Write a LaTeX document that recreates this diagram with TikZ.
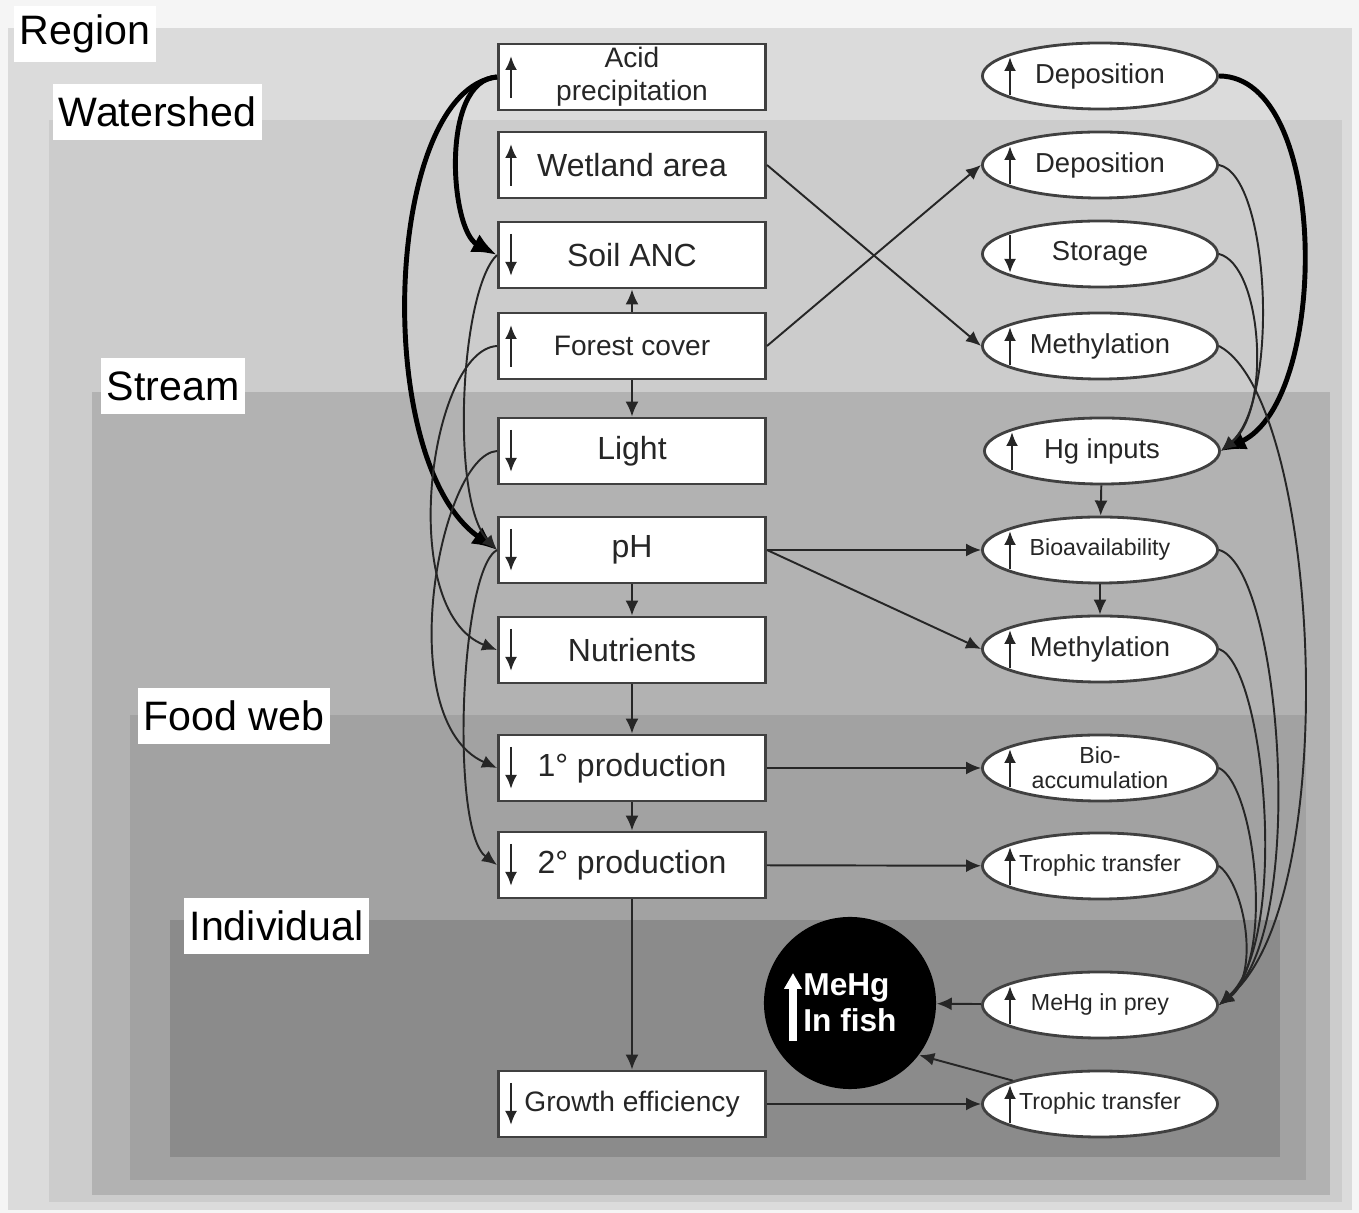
\documentclass[tikz,border=0pt]{standalone}
\usepackage{fontspec}
\setmainfont{Liberation Sans}
\usepackage{tikz}
\usetikzlibrary{shapes.geometric}
\usetikzlibrary{arrows.meta}
\usetikzlibrary{calc}
\definecolor{grPage}{gray}{0.96}
\definecolor{grRegion}{gray}{0.86}
\definecolor{grWater}{gray}{0.80}
\definecolor{grStream}{gray}{0.70}
\definecolor{grFood}{gray}{0.635}
\definecolor{grInd}{gray}{0.545}
\tikzset{
  Etikett/.style={fill=white, anchor=west, inner xsep=1.7pt, inner ysep=0pt,
    minimum height=0.56cm, font=\fontsize{11.7}{13}\selectfont}, % Ebenennamen
  Kasten/.style={draw=black!75, line width=0.8pt, fill=white, minimum width=2.67cm,
    minimum height=0.66cm, inner sep=0pt, align=center, text=black!85},
  Oval/.style={ellipse, draw=black!75, line width=0.8pt, fill=white, minimum width=2.35cm,
    minimum height=0.66cm, inner sep=0pt, align=center, text=black!85},
  gross/.style={font=\fontsize{9.1}{10}\selectfont},
  mittel/.style={font=\fontsize{8}{9.4}\selectfont},
  klein/.style={font=\fontsize{7.8}{9}\selectfont},
  winzig/.style={font=\fontsize{6.6}{7.2}\selectfont},
  Pfeil/.style={-{Latex[length=1.5mm,width=1.3mm]}, line width=0.55pt, black!85}, % duenne Pfeile
  DickPfeil/.style={-{Latex[length=2.5mm,width=2mm]}, line width=1.4pt, black}, % dicke Pfeile
  Zeichen/.style={-{Latex[length=1.4mm,width=1.2mm]}, line width=0.75pt, black!85} % auf/ab
}

\begin{document}
\begin{tikzpicture}[x=0.01cm, y=-0.01cm]
\useasboundingbox (0,0) rectangle (1359,1213);

%Ebenen
\fill[grPage] (0,0) rectangle (1359,1213);
\fill[grRegion] (8,28) rectangle (1352,1210);
\fill[grWater] (49,120) rectangle (1342,1202);
\fill[grStream] (92,392) rectangle (1330,1195);
\fill[grFood] (130,715) rectangle (1306,1180);
\fill[grInd] (170,920) rectangle (1280,1157);

\node[Etikett] (lregion) at (13,34) {Region};
\node[Etikett] (lwater) at (52,112) {Watershed};
\node[Etikett] (lstream) at (100,386) {Stream};
\node[Etikett] (lfood) at (137,716) {Food web};
\node[Etikett] (lind) at (183,926) {Individual};

%Kaesten
\node[Kasten, mittel] (acid) at (632,77) {Acid\\precipitation};
\node[Kasten, gross] (wet) at (632,165) {Wetland area};
\node[Kasten, gross] (soil) at (632,255) {Soil ANC};
\node[Kasten, mittel] (forest) at (632,346) {Forest cover};
\node[Kasten, gross] (light) at (632,451) {Light};
\node[Kasten, gross] (ph) at (632,550) {pH};
\node[Kasten, gross] (nutr) at (632,650) {Nutrients};
\node[Kasten, gross] (prod1) at (632,768) {1° production};
\node[Kasten, gross] (prod2) at (632,865) {2° production};
\node[Kasten, mittel] (growth) at (632,1104) {Growth efficiency};

%Ovale
\node[Oval, klein] (dep1) at (1100,76) {Deposition};
\node[Oval, klein] (dep2) at (1100,165) {Deposition};
\node[Oval, klein] (stor) at (1100,254) {Storage};
\node[Oval, klein] (meth1) at (1100,346) {Methylation};
\node[Oval, klein] (hg) at (1102,451) {Hg inputs};
\node[Oval, winzig] (bioav) at (1100,550) {Bioavailability};
\node[Oval, klein] (meth2) at (1100,649) {Methylation};
\node[Oval, winzig] (bioacc) at (1100,768) {Bio-\\accumulation};
\node[Oval, winzig] (troph1) at (1100,866) {Trophic transfer};
\node[Oval, winzig] (prey) at (1100,1005) {MeHg in prey};
\node[Oval, winzig] (troph2) at (1100,1104) {Trophic transfer};

\node[circle, fill=black, minimum size=1.72cm, inner sep=0pt, align=left, text=white,
  font=\bfseries\fontsize{9}{10.2}\selectfont] (fish) at (850,1003) {MeHg\\In fish};

%Auf-/Ab-Zeichen
\foreach \n in {acid,wet,forest}
  \draw[Zeichen] ($(\n.west)+(14,21)$) -- ($(\n.west)+(14,-21)$);
\foreach \n in {soil,light,ph,nutr,prod1,prod2,growth}
  \draw[Zeichen] ($(\n.west)+(14,-21)$) -- ($(\n.west)+(14,21)$);
\foreach \n in {dep1,dep2,meth1,hg,bioav,meth2,bioacc,troph1,prey,troph2}
  \draw[Zeichen] ($(\n.west)+(29,19)$) -- ($(\n.west)+(29,-19)$);
\draw[Zeichen] ($(stor.west)+(29,-19)$) -- ($(stor.west)+(29,19)$);
\draw[white, line width=2pt, -{Triangle[length=1.6mm,width=1.7mm]}]
  ($(fish.center)+(-57,38)$) -- ($(fish.center)+(-57,-30)$);

%Pfeile Mitte
\draw[Pfeil] (forest) -- (soil);
\draw[Pfeil] (forest) -- (light);
\draw[Pfeil] (ph) -- (nutr);
\draw[Pfeil] (nutr) -- (prod1);
\draw[Pfeil] (prod1) -- (prod2);
\draw[Pfeil] (prod2) -- (growth);
\draw[Pfeil] (hg) -- (bioav);
\draw[Pfeil] (bioav) -- (meth2);

%Pfeile quer
\draw[Pfeil] (wet.east) -- (meth1.west);
\draw[Pfeil] (forest.east) -- (dep2.west);
\draw[Pfeil] (ph.east) -- (bioav.west);
\draw[Pfeil] (ph.east) -- (meth2.west);
\draw[Pfeil] (prod1) -- (bioacc);
\draw[Pfeil] (prod2) -- (troph1);
\draw[Pfeil] (growth) -- (troph2);
\draw[Pfeil] (prey) -- (fish);
\draw[Pfeil] (troph2.165) -- (fish.-37);

%Boegen links
\draw[DickPfeil] (acid.west) .. controls (440,80) and (450,230) .. (soil.west);
\draw[DickPfeil] (acid.west) .. controls (385,90) and (370,460) .. (ph.west);
\draw[Pfeil] (soil.west) .. controls (460,290) and (450,500) .. (ph.west);
\draw[Pfeil] (forest.west) .. controls (430,350) and (395,610) .. (nutr.west);
\draw[Pfeil] (light.west) .. controls (440,455) and (390,720) .. (prod1.west);
\draw[Pfeil] (ph.west) .. controls (460,570) and (450,830) .. (prod2.west);

%Boegen rechts
\draw[DickPfeil] (dep1.east) .. controls (1330,76) and (1330,400) .. (hg.east);
\draw[Pfeil] (dep2.east) .. controls (1270,175) and (1280,400) .. (hg.east);
\draw[Pfeil] (stor.east) .. controls (1262,265) and (1272,410) .. (hg.east);
\draw[Pfeil] (meth1.east) .. controls (1320,400) and (1345,900) .. (prey.east);
\draw[Pfeil] (bioav.east) .. controls (1280,565) and (1310,930) .. (prey.east);
\draw[Pfeil] (meth2.east) .. controls (1265,665) and (1290,940) .. (prey.east);
\draw[Pfeil] (bioacc.east) .. controls (1255,785) and (1275,960) .. (prey.east);
\draw[Pfeil] (troph1.east) .. controls (1245,885) and (1260,975) .. (prey.east);

\end{tikzpicture}
\end{document}
